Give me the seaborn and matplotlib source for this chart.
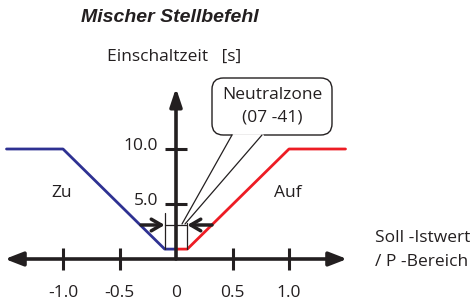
import matplotlib
matplotlib.use("Agg")
import matplotlib.pyplot as plt
from matplotlib.patches import FancyBboxPatch
import seaborn as sns
import pandas as pd

# ---- data ----
zu_x = [-1.5, -1.0, -0.1, 0.0]
zu_y = [10.0, 10.0, 0.9, 0.9]
auf_x = [0.0, 0.1, 1.0, 1.5]
auf_y = [0.9, 0.9, 10.0, 10.0]
x_ticks = [-1.0, -0.5, 0.0, 0.5, 1.0]
x_tick_labels = ["-1.0", "-0.5", "0", "0.5", "1.0"]
y_ticks = [5.0, 10.0]
y_tick_labels = ["5.0", "10.0"]
neutral_zone = [-0.1, 0.1]

sns.set_theme(style="white")
FONT = ["Open Sans", "DejaVu Sans"]
plt.rcParams["font.family"] = FONT

W, H = 473, 302
fig = plt.figure(figsize=(W / 100, H / 100), dpi=100)
ax = fig.add_axes([0, 0, 1, 1])
ax.set_axis_off()

# pixel mapping: x_px = 176 + 113*x ; y_px = 259 - 11*y
def xd(px):
    return (px - 176) / 113.0

def yd(py):
    return (259 - py) / 11.0

BLACK = "#231f20"
FS = 12.5

# axes with arrows
ax.annotate("", xy=(xd(5), 0), xytext=(xd(347), 0),
            arrowprops=dict(arrowstyle="<|-|>,head_length=0.9,head_width=0.35",
                            color=BLACK, lw=2.6, shrinkA=0, shrinkB=0))
ax.annotate("", xy=(0, yd(88)), xytext=(0, 0),
            arrowprops=dict(arrowstyle="-|>,head_length=0.9,head_width=0.3",
                            color=BLACK, lw=2.6, shrinkA=0, shrinkB=0))

# tick marks
for t in x_ticks:
    if t != 0:
        ax.plot([t, t], [-1.0, 1.0], color=BLACK, lw=2.2, solid_capstyle="butt")
for t in y_ticks:
    ax.plot([-0.097, 0.097], [t, t], color=BLACK, lw=2.2, solid_capstyle="butt")

# characteristic lines
df_zu = pd.DataFrame({"x": zu_x, "y": zu_y})
df_auf = pd.DataFrame({"x": auf_x, "y": auf_y})
sns.lineplot(data=df_zu, x="x", y="y", sort=False, color="#2e3192", lw=2.0, ax=ax,
             estimator=None)
sns.lineplot(data=df_auf, x="x", y="y", sort=False, color="#ed1c24", lw=2.0, ax=ax,
             estimator=None)
ax.set_axis_off()
ax.set_xlim(xd(0), xd(W))
ax.set_ylim(yd(H), yd(0))

# neutral zone markers
ax.plot([neutral_zone[0]] * 2, [0.9, yd(213)], color=BLACK, lw=0.9)
ax.plot([neutral_zone[1]] * 2, [0.9, yd(223)], color=BLACK, lw=0.9)
ax.plot(neutral_zone, [yd(225)] * 2, color=BLACK, lw=0.9)
ax.annotate("", xy=(neutral_zone[0], yd(225)), xytext=(xd(141), yd(225)),
            arrowprops=dict(arrowstyle="->,head_length=0.6,head_width=0.35",
                            color=BLACK, lw=2.5, shrinkA=0, shrinkB=0))
ax.annotate("", xy=(neutral_zone[1], yd(225)), xytext=(xd(212), yd(225)),
            arrowprops=dict(arrowstyle="->,head_length=0.6,head_width=0.35",
                            color=BLACK, lw=2.5, shrinkA=0, shrinkB=0))

# callout box
bx0, bx1 = xd(212), xd(332)
by0, by1 = yd(135), yd(78)
box = FancyBboxPatch((bx0, by0), bx1 - bx0, by1 - by0,
                     boxstyle="round,pad=0,rounding_size=0.1",
                     mutation_aspect=113 / 11.0,
                     fc="white", ec=BLACK, lw=1.0, zorder=5)
ax.add_patch(box)
ax.plot([xd(232.5), xd(261.5)], [by0, by0], color="white", lw=2.0, zorder=6)
ax.plot([xd(232), xd(182)], [by0, yd(224)], color=BLACK, lw=0.9, zorder=6)
ax.plot([xd(262), xd(185)], [by0, yd(224)], color=BLACK, lw=0.9, zorder=6)

def ptext(px, py, s, **kw):
    fig.text(px / W, 1 - py / H, s, **kw)

ptext(170, 18, "Mischer Stellbefehl", ha="center", va="center", fontsize=14,
      fontweight="bold", fontstyle="italic", family=["Liberation Sans", "DejaVu Sans"],
      color=BLACK)
ptext(107, 57, "Einschaltzeit   [s]", ha="left", va="center", fontsize=FS, color=BLACK)
ptext(272, 95, "Neutralzone", ha="center", va="center", fontsize=FS, color=BLACK, zorder=7)
ptext(272, 117, "(07 -41)", ha="center", va="center", fontsize=FS, color=BLACK, zorder=7)
ptext(62, 193, "Zu", ha="center", va="center", fontsize=FS, color=BLACK)
ptext(288, 193, "Auf", ha="center", va="center", fontsize=FS, color=BLACK)
ptext(375, 238, "Soll -Istwert", ha="left", va="center", fontsize=FS, color=BLACK)
ptext(375, 262, "/ P -Bereich", ha="left", va="center", fontsize=FS, color=BLACK)

for t, lab in zip(y_ticks, y_tick_labels):
    ax.text(xd(158), t + 0.25, lab, ha="right", va="center", fontsize=FS, color=BLACK)
for t, lab in zip(x_ticks, x_tick_labels):
    ax.text(t, yd(293), lab, ha="center", va="center", fontsize=FS, color=BLACK)

fig.savefig("out.png", dpi=100)
